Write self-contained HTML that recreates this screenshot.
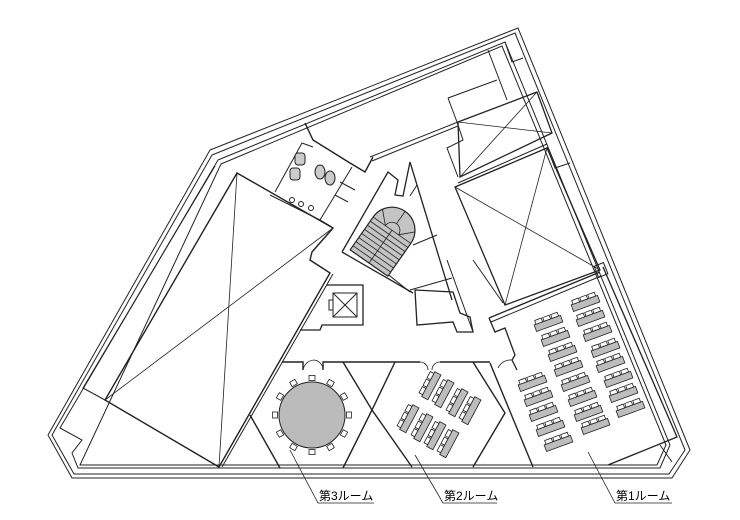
<!DOCTYPE html>
<html><head><meta charset="utf-8"><style>
html,body{margin:0;padding:0;background:#fff;}
svg{display:block;}
text{font-family:"Liberation Sans","Noto Sans CJK JP",sans-serif;font-size:12px;fill:#000;}
</style></head><body>
<svg width="740" height="520" viewBox="0 0 740 520" xmlns="http://www.w3.org/2000/svg">
<defs>
<g id="d1">
<rect x="-14" y="-2" width="28" height="7" fill="#bdbdbd" stroke="#222" stroke-width="0.8"/>
<rect x="-12" y="-6" width="7" height="4" fill="#fff" stroke="#222" stroke-width="0.8"/>
<rect x="-3.5" y="-6" width="7" height="4" fill="#fff" stroke="#222" stroke-width="0.8"/>
<rect x="5" y="-6" width="7" height="4" fill="#fff" stroke="#222" stroke-width="0.8"/>
</g>
<g id="ch"><rect x="-3" y="-2.5" width="6" height="5" fill="#fff" stroke="#222" stroke-width="0.8"/></g>
</defs>

<g fill="none" stroke="#222" stroke-width="1">
<!-- outer walls -->
<polygon points="210,150 518,28 690,450 672,478 72,478 48,435"/>
<polygon points="212,155 515,33 685,450 669,474 74,474 52,435"/>
<polygon points="218,160 505,42 670,445 660,468 78,468 72,453 82,440 60,428"/>
<polygon points="221,164 502,46 666,445 657,465 80,465"/>

<!-- big left skylight -->
<polygon points="237,173 333,228 312,252 310,260 330,273 219,467 105,400" stroke-width="1.4"/>
<line x1="237" y1="173" x2="219" y2="467" stroke-width="0.8"/>
<line x1="333" y1="228" x2="105" y2="400" stroke-width="0.8"/>
<polyline points="215,166 83,388 105,400"/>
<!-- corridor long wall double -->
<line x1="333" y1="274" x2="222" y2="467"/>

<!-- upper right rooms -->
<polyline points="488,50 507,100"/>
<polyline points="505,42 512,62 523,58"/>
<polyline points="448,98 497,80"/>
<polyline points="448,98 457,122 463,140 447,148 458,177"/>
<polygon points="458,122 537,92 552,133 460,177" stroke-width="1.3"/>
<line x1="458" y1="122" x2="552" y2="133" stroke-width="0.8"/>
<line x1="537" y1="92" x2="460" y2="177" stroke-width="0.8"/>
<polyline points="370,157 458,122"/>
<line x1="372" y1="161" x2="458" y2="126"/>
<polyline points="547,147 555,168 570,163"/>

<!-- right skylight -->
<polygon points="455,187 547,148 600,270 505,305" stroke-width="1.3"/>
<line x1="455" y1="187" x2="600" y2="270" stroke-width="0.8"/>
<line x1="547" y1="148" x2="505" y2="305" stroke-width="0.8"/>
<line x1="458" y1="183" x2="547" y2="144"/>

<!-- upper corridor wall -->
<polyline points="305,123 313,140 350,163 365,172 373,157" stroke-width="1.4"/>
<!-- toilets -->
<polyline points="275,192 302,143 313,147"/>
<polyline points="270,195 320,220 332,227"/>
<line x1="352" y1="167" x2="320" y2="220"/>
<rect x="295" y="153" width="10" height="12" fill="#ccc" rx="3"/>
<rect x="290" y="168" width="10" height="12" fill="#ccc" rx="3"/>
<ellipse cx="320" cy="172" rx="5" ry="7" fill="#ccc"/>
<ellipse cx="330" cy="178" rx="5" ry="7" fill="#ccc"/>
<circle cx="292" cy="200" r="2.5"/><circle cx="301" cy="204" r="2.5"/><circle cx="311" cy="208" r="2.5"/>
<line x1="340" y1="182" x2="355" y2="190"/><line x1="335" y1="195" x2="348" y2="202"/>

<!-- stair enclosure -->
<polyline points="342,252 388,172 398,180 395,195 403,196 410,162 452,300" stroke-width="1.3"/>
<line x1="342" y1="252" x2="413" y2="293" stroke-width="1.3"/>
<line x1="410" y1="196" x2="417" y2="185"/>
<line x1="413" y1="245" x2="437" y2="235"/>
<line x1="370" y1="260" x2="410" y2="292"/>

<!-- small room center -->
<polyline points="410,290 452,278"/>
<polygon points="415,290 453,292 460,313 470,317 473,332 457,332 453,322 417,325" stroke-width="1.3"/>
<line x1="447" y1="260" x2="473" y2="332"/>
<line x1="473" y1="260" x2="503" y2="303"/>

<!-- elevator -->
<polyline points="327,285 363,285 363,325 340,325 322,325 320,330 300,330" stroke-width="1.3"/>
<rect x="333" y="293" width="24" height="24"/>
<line x1="333" y1="293" x2="357" y2="317"/><line x1="357" y1="293" x2="333" y2="317"/>
<rect x="329" y="300" width="4" height="10"/>

<!-- corridor/room top wall -->
<polyline points="282,362 303,362 303,370" stroke-width="1.4"/>
<polyline points="323,370 323,362 420,362" stroke-width="1.4"/>
<polyline points="440,362 490,362" stroke-width="1.4"/>
<path d="M303,370 A12,12 0 0 1 314,360 M323,370 A10,10 0 0 0 314,360" stroke-width="0.8"/>
<path d="M420,362 A8,8 0 0 1 428,370 M440,362 A8,8 0 0 0 432,370" stroke-width="0.8"/>

<!-- room 3 hexagon -->
<polyline points="250,415 280,468" stroke-width="1.4"/>
<polyline points="343,362 372,410 343,468" stroke-width="1.4"/>
<!-- room 2 -->
<polyline points="395,362 372,410 412,467" stroke-width="1.4"/>
<polyline points="473,362 505,413 473,467" stroke-width="1.4"/>
<!-- room 1 -->
<polyline points="489,318 495,332 505,328 515,355 512,360 517,370" stroke-width="1.3"/>
<line x1="490" y1="363" x2="533" y2="467" stroke-width="1.4"/>
<polyline points="489,318 600,272" stroke-width="1.3"/>
<line x1="491" y1="322" x2="601" y2="276"/>
<rect x="596" y="264" width="10" height="12" transform="rotate(-22 601 270)"/>
<polyline points="603,267 677,437 608,465" stroke-width="1.3"/>
<line x1="660" y1="445" x2="672" y2="462"/>
<path d="M512,360 A14,14 0 0 0 498,368" stroke-width="0.8"/>
</g>

<!-- stair -->
<g transform="translate(369,263) rotate(35)" stroke="#222" stroke-width="0.8">
<path d="M-23,0 L-23,-40 A23,23 0 0 1 23,-40 L23,0 Z" fill="#c4c4c4" stroke-width="1.2"/>
<line x1="0" y1="0" x2="0" y2="-40"/>
<path d="M-8,-40 A8,8 0 0 1 8,-40" fill="none"/>
<g>
<line x1="-23" y1="-5" x2="23" y2="-5"/><line x1="-23" y1="-10" x2="23" y2="-10"/>
<line x1="-23" y1="-15" x2="23" y2="-15"/><line x1="-23" y1="-20" x2="23" y2="-20"/>
<line x1="-23" y1="-25" x2="23" y2="-25"/><line x1="-23" y1="-30" x2="23" y2="-30"/>
<line x1="-23" y1="-35" x2="23" y2="-35"/><line x1="-23" y1="-40" x2="23" y2="-40"/>
<line x1="-8" y1="-40" x2="-20" y2="-52"/><line x1="0" y1="-48" x2="0" y2="-63"/><line x1="8" y1="-40" x2="20" y2="-52"/>
</g>
</g>

<!-- round table -->
<g stroke="#222">
<circle cx="312" cy="415" r="33" fill="#bbb" stroke-width="1"/>
<use href="#ch" transform="translate(312,378)"/>
<use href="#ch" transform="translate(330.5,383) rotate(30)"/>
<use href="#ch" transform="translate(344,396.5) rotate(60)"/>
<use href="#ch" transform="translate(349,415) rotate(90)"/>
<use href="#ch" transform="translate(344,433.5) rotate(120)"/>
<use href="#ch" transform="translate(330.5,447) rotate(150)"/>
<use href="#ch" transform="translate(312,452)"/>
<use href="#ch" transform="translate(293.5,447) rotate(30)"/>
<use href="#ch" transform="translate(280,433.5) rotate(60)"/>
<use href="#ch" transform="translate(275,415) rotate(90)"/>
<use href="#ch" transform="translate(280,396.5) rotate(120)"/>
<use href="#ch" transform="translate(293.5,383) rotate(150)"/>
</g>

<!-- room 2 desks -->
<g>
<use href="#d1" transform="translate(430,385) rotate(-62)"/>
<use href="#d1" transform="translate(443,393) rotate(-62)"/>
<use href="#d1" transform="translate(457,402) rotate(-62)"/>
<use href="#d1" transform="translate(470,410) rotate(-62)"/>
<use href="#d1" transform="translate(408,418) rotate(-62)"/>
<use href="#d1" transform="translate(422,427) rotate(-62)"/>
<use href="#d1" transform="translate(435,435) rotate(-62)"/>
<use href="#d1" transform="translate(448,443) rotate(-62)"/>
</g>

<!-- room 1 desks -->
<g>
<use href="#d1" transform="translate(532,382) rotate(-20)"/>
<use href="#d1" transform="translate(538,397) rotate(-20)"/>
<use href="#d1" transform="translate(543,412) rotate(-20)"/>
<use href="#d1" transform="translate(550,427) rotate(-20)"/>
<use href="#d1" transform="translate(558,442) rotate(-20)"/>
<use href="#d1" transform="translate(548,322) rotate(-20)"/>
<use href="#d1" transform="translate(555,337) rotate(-20)"/>
<use href="#d1" transform="translate(562,352) rotate(-20)"/>
<use href="#d1" transform="translate(568,367) rotate(-20)"/>
<use href="#d1" transform="translate(575,382) rotate(-20)"/>
<use href="#d1" transform="translate(582,397) rotate(-20)"/>
<use href="#d1" transform="translate(588,412) rotate(-20)"/>
<use href="#d1" transform="translate(595,425) rotate(-20)"/>
<use href="#d1" transform="translate(585,302) rotate(-20)"/>
<use href="#d1" transform="translate(590,317) rotate(-20)"/>
<use href="#d1" transform="translate(597,332) rotate(-20)"/>
<use href="#d1" transform="translate(605,348) rotate(-20)"/>
<use href="#d1" transform="translate(610,363) rotate(-20)"/>
<use href="#d1" transform="translate(618,378) rotate(-20)"/>
<use href="#d1" transform="translate(623,393) rotate(-20)"/>
<use href="#d1" transform="translate(630,408) rotate(-20)"/>
</g>

<!-- labels -->
<g fill="none" stroke="#222" stroke-width="0.8">
<polyline points="290,450 318,503 374,503"/>
<polyline points="415,455 443,503 497,503"/>
<polyline points="588,452 615,503 672,503"/>
</g>
<text x="319" y="500">第3ルーム</text>
<text x="444" y="500">第2ルーム</text>
<text x="616" y="500">第1ルーム</text>
</svg>
</body></html>
